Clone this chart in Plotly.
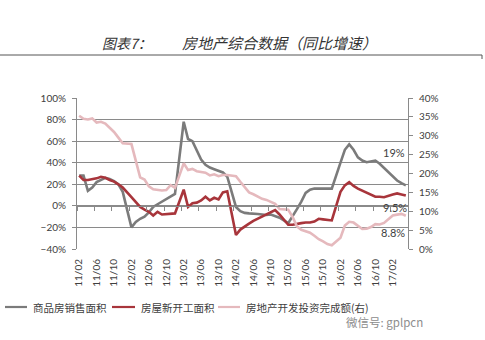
import plotly.graph_objects as go

# ---- data -------------------------------------------------------------
# monthly slots from 2011/02 to 2017/05; January has no release (None)
years = [2011, 2012, 2013, 2014, 2015, 2016, 2017]

# 商品房销售面积, YoY %, left axis
sales_2011 = [28, 28, 14, 17, 22, 24, 26, 25, 23, 20, 13]
sales_2012 = [None, -20, -15, -12, -10, -6, -1, 1.5, 4, 6.5, 9, 11]
sales_2013 = [None, 78, 62, 60, 51, 43, 38, 35.5, 34, 32.5, 31, 27]
sales_2014 = [None, -1, -5, -6.5, -7, -7, -7.5, -8, -8.5, -8, -9.5, -11]
sales_2015 = [None, -16, -10, -3, 4, 12, 15, 16, 16, 16, 16, 16]
sales_2016 = [None, 40, 52, 57, 52, 45, 42, 40.5, 41.5, 42, 39, 35]
sales_2017 = [None, 27, 23.5, 21, 19]

# 房屋新开工面积, YoY %, left axis
starts_2011 = [28, 24, 24, 24.5, 25.5, 27, 26, 24, 22.5, 20, 17]
starts_2012 = [None, 8, 3, -1, -3.5, -5.5, -9, -5.5, -8, -7.5, -7.5, -7]
starts_2013 = [None, 15, -1, 2.5, 3, 5, 8.5, 5, 7.5, 6, 12.5, 13.5]
starts_2014 = [None, -27, -22, -19, -16.5, -14, -12, -9.5, -7.5, -5.5, -4, -8]
starts_2015 = [None, -17.5, -17.5, -16.5, -16, -15.5, -15.5, -14.5, -12, -12.5, -13, -13.5]
starts_2016 = [None, 13, 19, 22, 18.5, 16, 14, 12, 10, 8.5, 8.5, 8]
starts_2017 = [None, 10.5, 11.5, 10.5, 9.5]

# 房地产开发投资完成额, YoY %, right axis
invest_2011 = [35.3, 34.5, 34.3, 34.6, 33.5, 33.7, 33.2, 32.2, 31, 29.5, 28]
invest_2012 = [None, 27.8, 23.5, 19, 18.4, 16.6, 15.8, 15.6, 15.5, 15.6, 16.9, 16.2]
invest_2013 = [None, 22.7, 20.9, 21.2, 20.6, 20.3, 20.2, 19.5, 19.8, 19.3, 19.6, 19.6]
invest_2014 = [None, 19.3, 17.8, 16.5, 15, 14.5, 13.8, 13.3, 13, 12.5, 12, 10.6]
invest_2015 = [None, 10.4, 8.5, 6, 5.1, 4.6, 4.3, 3.5, 2.6, 2, 1.3, 1]
invest_2016 = [None, 3, 6.2, 7.2, 7, 6.1, 5.3, 5.4, 5.8, 6.6, 6.5, 6.9]
invest_2017 = [None, 8.9, 9.1, 9.3, 8.8]

sales = sales_2011 + sales_2012 + sales_2013 + sales_2014 + sales_2015 + sales_2016 + sales_2017
starts = starts_2011 + starts_2012 + starts_2013 + starts_2014 + starts_2015 + starts_2016 + starts_2017
invest = invest_2011 + invest_2012 + invest_2013 + invest_2014 + invest_2015 + invest_2016 + invest_2017

# month labels "YY/MM"
months = []
for y in years:
    first = 2 if y == 2011 else 1
    last = 5 if y == 2017 else 12
    for m in range(first, last + 1):
        months.append(f"{y % 100:02d}/{m:02d}")

xs = list(range(len(months)))
label_idx = xs[::4]
label_text = [months[i] for i in label_idx]

series_names = ["商品房销售面积", "房屋新开工面积", "房地产开发投资完成额(右)"]
colors = ["#7b7b7b", "#a8353b", "#e5b9bd"]

# ---- geometry of the page (pixels) -----------------------------------
W, H = 485, 340
L, R, T, B = 77, 408, 98, 249


def px(xp):
    return (xp - L) / (R - L)


def py(yp):
    return (B - yp) / (B - T)


font_num = "Lato, 'Noto Sans CJK SC', sans-serif"
font_cjk = "'Noto Sans CJK SC', sans-serif"
axis_grey = "#8a8a8a"
text_grey = "#404040"

fig = go.Figure()

fig.add_trace(go.Scatter(x=xs, y=sales, mode="lines", name=series_names[0],
                         line=dict(color=colors[0], width=2.6), connectgaps=True,
                         yaxis="y"))
fig.add_trace(go.Scatter(x=xs, y=starts, mode="lines", name=series_names[1],
                         line=dict(color=colors[1], width=2.6), connectgaps=True,
                         yaxis="y"))
fig.add_trace(go.Scatter(x=xs, y=invest, mode="lines", name=series_names[2],
                         line=dict(color=colors[2], width=2.6), connectgaps=True,
                         yaxis="y2"))

xrange = [-0.5, len(months) - 0.5]

fig.update_layout(
    width=W, height=H,
    margin=dict(l=L, r=W - R, t=T, b=H - B, pad=0),
    paper_bgcolor="white", plot_bgcolor="white",
    showlegend=False,
    xaxis=dict(
        range=xrange, tickmode="array", tickvals=label_idx, ticktext=label_text,
        tickangle=-90, ticks="", showgrid=False, zeroline=False, showline=False,
        tickfont=dict(family=font_num, size=10, color=text_grey),
        ticklabelstandoff=7,
    ),
    # axis line crossing at 0% with tick marks between labelled months
    xaxis2=dict(
        range=xrange, overlaying="x", anchor="free", position=40 / 140,
        tickmode="array", tickvals=[i - 0.5 for i in label_idx] + [len(months) - 0.5],
        showticklabels=False, ticks="outside", ticklen=4, tickcolor=axis_grey,
        showline=True, linecolor=axis_grey, linewidth=1, showgrid=False, zeroline=False,
    ),
    yaxis=dict(
        range=[-40, 100], dtick=20, ticksuffix="%", showgrid=True,
        gridcolor=axis_grey, gridwidth=1, zeroline=False, showline=True,
        linecolor=axis_grey, linewidth=1, ticks="outside", ticklen=4, tickcolor=axis_grey,
        tickfont=dict(family=font_num, size=10, color=text_grey), ticklabelstandoff=4,
    ),
    yaxis2=dict(
        range=[0, 40], dtick=5, ticksuffix="%", overlaying="y", side="right",
        showgrid=False, zeroline=False, showline=True, linecolor=axis_grey, linewidth=1,
        ticks="outside", ticklen=4, tickcolor=axis_grey,
        tickfont=dict(family=font_num, size=10, color=text_grey), ticklabelstandoff=4,
    ),
)

# invisible trace so xaxis2 is drawn
fig.add_trace(go.Scatter(x=[xs[0]], y=[None], xaxis="x2", yaxis="y", showlegend=False,
                         hoverinfo="skip"))

# ---- end-point value labels -----------------------------------------
last = xs[-1]
fig.add_annotation(x=last, y=sales[-1], xref="x", yref="y", text=f"{sales[-1]:g}%",
                   showarrow=False, xanchor="right", yanchor="middle", yshift=33, xshift=1,
                   font=dict(family=font_num, size=11, color=text_grey))
fig.add_annotation(x=last, y=starts[-1], xref="x", yref="y", text=f"{starts[-1]:g}%",
                   showarrow=False, xanchor="right", yanchor="middle", yshift=-12, xshift=3,
                   font=dict(family=font_num, size=11, color=text_grey))
fig.add_annotation(x=last, y=invest[-1], xref="x", yref="y2", text=f"{invest[-1]:g}%",
                   showarrow=False, xanchor="right", yanchor="middle", yshift=-17, xshift=1,
                   font=dict(family=font_num, size=11, color=text_grey))

# ---- title ------------------------------------------------------------
fig.add_annotation(x=px(100), y=py(43), xref="paper", yref="paper", text="图表7：",
                   showarrow=False, xanchor="left", yanchor="middle",
                   font=dict(family=font_cjk, size=14, color="#333333", style="italic"))
fig.add_annotation(x=px(180), y=py(43), xref="paper", yref="paper",
                   text="房地产综合数据（同比增速）",
                   showarrow=False, xanchor="left", yanchor="middle",
                   font=dict(family=font_cjk, size=15, color="#333333", style="italic"))
fig.add_shape(type="line", xref="paper", yref="paper", x0=px(0), x1=px(482),
              y0=py(55), y1=py(55), line=dict(color="#555555", width=1))
fig.add_shape(type="line", xref="paper", yref="paper", x0=px(482), x1=px(482),
              y0=py(55), y1=py(59), line=dict(color="#555555", width=1))

# ---- legend -----------------------------------------------------------
legend_pos = [(5, 27, 31), (112, 135, 139), (218, 240, 244)]
for (x0, x1, xt), name, col in zip(legend_pos, series_names, colors):
    fig.add_shape(type="line", xref="paper", yref="paper", x0=px(x0), x1=px(x1),
                  y0=py(307), y1=py(307), line=dict(color=col, width=2.2))
    fig.add_annotation(x=px(xt), y=py(307), xref="paper", yref="paper", text=name,
                       showarrow=False, xanchor="left", yanchor="middle",
                       font=dict(family=font_cjk, size=10.5, color=text_grey))

# account watermark
fig.add_annotation(x=px(344), y=py(322), xref="paper", yref="paper", text="微信号: gplpcn",
                   showarrow=False, xanchor="left", yanchor="middle",
                   font=dict(family=font_cjk, size=11.5, color="#8c8c8c"))

fig.write_html("out.html")
